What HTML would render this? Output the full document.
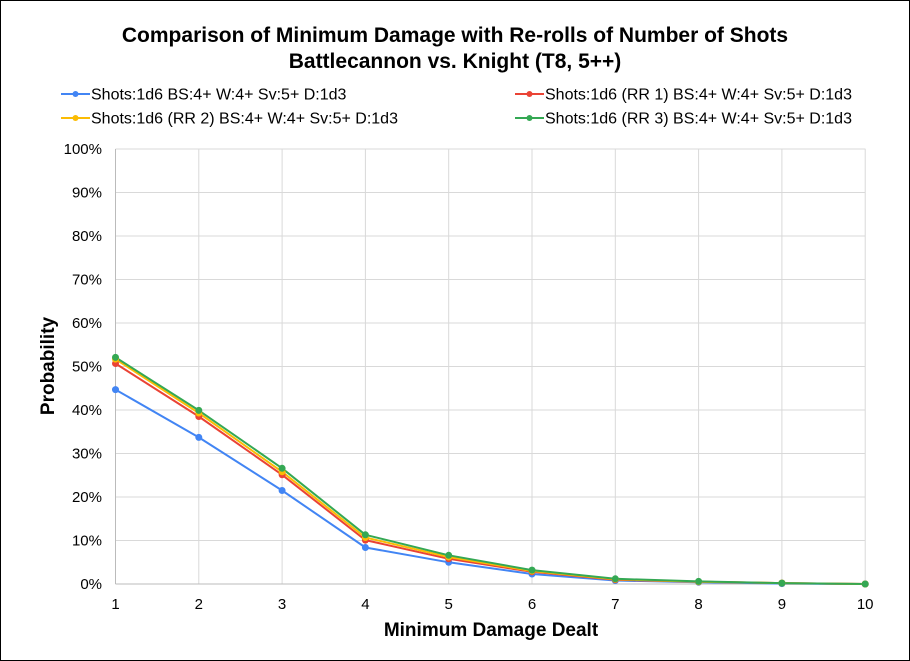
<!DOCTYPE html>
<html><head><meta charset="utf-8"><style>
html,body{margin:0;padding:0;background:#fff}
svg{display:block;font-family:"Liberation Sans",Arial,sans-serif}
</style></head><body>
<svg width="910" height="661" viewBox="0 0 910 661" xmlns="http://www.w3.org/2000/svg">
<rect x="0.5" y="0.5" width="909" height="660" fill="#fff" stroke="#000"/>
<text x="455" y="42" font-size="21" font-weight="bold" text-anchor="middle">Comparison of Minimum Damage with Re-rolls of Number of Shots</text>
<text x="455" y="68" font-size="21" font-weight="bold" text-anchor="middle">Battlecannon vs. Knight (T8, 5++)</text>
<g font-size="16" fill="#000">
<line x1="61" y1="94" x2="90" y2="94" stroke="#4285F4" stroke-width="2"/><circle cx="75.5" cy="94" r="3" fill="#4285F4"/>
<text x="91" y="99.5">Shots:1d6 BS:4+ W:4+ Sv:5+ D:1d3</text>
<line x1="61" y1="118" x2="90" y2="118" stroke="#FBBC04" stroke-width="2"/><circle cx="75.5" cy="118" r="3" fill="#FBBC04"/>
<text x="91" y="123.5">Shots:1d6 (RR 2) BS:4+ W:4+ Sv:5+ D:1d3</text>
<line x1="515" y1="94" x2="544" y2="94" stroke="#EA4335" stroke-width="2"/><circle cx="529.5" cy="94" r="3" fill="#EA4335"/>
<text x="545" y="99.5">Shots:1d6 (RR 1) BS:4+ W:4+ Sv:5+ D:1d3</text>
<line x1="515" y1="118" x2="544" y2="118" stroke="#34A853" stroke-width="2"/><circle cx="529.5" cy="118" r="3" fill="#34A853"/>
<text x="545" y="123.5">Shots:1d6 (RR 3) BS:4+ W:4+ Sv:5+ D:1d3</text>
</g>
<g stroke="#d9d9d9" stroke-width="1">
<line x1="115.5" y1="149" x2="865.5" y2="149"/><line x1="115.5" y1="192.5" x2="865.5" y2="192.5"/><line x1="115.5" y1="236" x2="865.5" y2="236"/><line x1="115.5" y1="279.5" x2="865.5" y2="279.5"/><line x1="115.5" y1="323" x2="865.5" y2="323"/><line x1="115.5" y1="366.5" x2="865.5" y2="366.5"/><line x1="115.5" y1="410" x2="865.5" y2="410"/><line x1="115.5" y1="453.5" x2="865.5" y2="453.5"/><line x1="115.5" y1="497" x2="865.5" y2="497"/><line x1="115.5" y1="540.5" x2="865.5" y2="540.5"/>
<line x1="198.8" y1="149" x2="198.8" y2="584"/><line x1="282.1" y1="149" x2="282.1" y2="584"/><line x1="365.4" y1="149" x2="365.4" y2="584"/><line x1="448.7" y1="149" x2="448.7" y2="584"/><line x1="532" y1="149" x2="532" y2="584"/><line x1="615.3" y1="149" x2="615.3" y2="584"/><line x1="698.6" y1="149" x2="698.6" y2="584"/><line x1="781.9" y1="149" x2="781.9" y2="584"/><line x1="865.2" y1="149" x2="865.2" y2="584"/>
</g>
<line x1="115.5" y1="149" x2="115.5" y2="584" stroke="#bbb"/>
<line x1="115.5" y1="584" x2="865.5" y2="584" stroke="#bbb"/>
<g font-size="15" text-anchor="end">
<text x="102" y="154">100%</text><text x="102" y="197.5">90%</text><text x="102" y="241">80%</text><text x="102" y="284.5">70%</text><text x="102" y="328">60%</text><text x="102" y="371.5">50%</text><text x="102" y="415">40%</text><text x="102" y="458.5">30%</text><text x="102" y="502">20%</text><text x="102" y="545.5">10%</text><text x="102" y="589">0%</text>
</g>
<g font-size="15" text-anchor="middle">
<text x="115.5" y="609">1</text><text x="198.8" y="609">2</text><text x="282.1" y="609">3</text><text x="365.4" y="609">4</text><text x="448.7" y="609">5</text><text x="532" y="609">6</text><text x="615.3" y="609">7</text><text x="698.6" y="609">8</text><text x="781.9" y="609">9</text><text x="865.2" y="609">10</text>
</g>
<text x="491" y="636" font-size="19" font-weight="bold" text-anchor="middle">Minimum Damage Dealt</text>
<text transform="translate(54,366) rotate(-90)" font-size="19" font-weight="bold" text-anchor="middle">Probability</text>
<g fill="none" stroke-width="2" stroke-linejoin="round">
<polyline stroke="#4285F4" points="115.5,389.6 198.8,437.4 282.1,490.5 365.4,547.5 448.7,562.3 532,574 615.3,580.5 698.6,582.3 781.9,583.6 865.2,584"/>
<polyline stroke="#EA4335" points="115.5,363.5 198.8,416.5 282.1,474.8 365.4,540.1 448.7,558.8 532,571.8 615.3,579.7 698.6,581.8 781.9,583.1 865.2,584"/>
<polyline stroke="#FBBC04" points="115.5,359.1 198.8,413 282.1,471.8 365.4,537.5 448.7,557 532,571 615.3,579.2 698.6,581.8 781.9,583.1 865.2,584"/>
<polyline stroke="#34A853" points="115.5,357.4 198.8,410.4 282.1,468.3 365.4,534.8 448.7,555.3 532,570.1 615.3,578.8 698.6,581.4 781.9,583.1 865.2,584"/>
</g>
<g fill="#4285F4"><circle cx="115.5" cy="389.6" r="3.5"/><circle cx="198.8" cy="437.4" r="3.5"/><circle cx="282.1" cy="490.5" r="3.5"/><circle cx="365.4" cy="547.5" r="3.5"/><circle cx="448.7" cy="562.3" r="3.5"/><circle cx="532" cy="574" r="3.5"/><circle cx="615.3" cy="580.5" r="3.5"/><circle cx="698.6" cy="582.3" r="3.5"/><circle cx="781.9" cy="583.6" r="3.5"/><circle cx="865.2" cy="584" r="3.5"/></g>
<g fill="#EA4335"><circle cx="115.5" cy="363.5" r="3.5"/><circle cx="198.8" cy="416.5" r="3.5"/><circle cx="282.1" cy="474.8" r="3.5"/><circle cx="365.4" cy="540.1" r="3.5"/><circle cx="448.7" cy="558.8" r="3.5"/><circle cx="532" cy="571.8" r="3.5"/><circle cx="615.3" cy="579.7" r="3.5"/><circle cx="698.6" cy="581.8" r="3.5"/><circle cx="781.9" cy="583.1" r="3.5"/><circle cx="865.2" cy="584" r="3.5"/></g>
<g fill="#FBBC04"><circle cx="115.5" cy="359.1" r="3.5"/><circle cx="198.8" cy="413" r="3.5"/><circle cx="282.1" cy="471.8" r="3.5"/><circle cx="365.4" cy="537.5" r="3.5"/><circle cx="448.7" cy="557" r="3.5"/><circle cx="532" cy="571" r="3.5"/><circle cx="615.3" cy="579.2" r="3.5"/><circle cx="698.6" cy="581.8" r="3.5"/><circle cx="781.9" cy="583.1" r="3.5"/><circle cx="865.2" cy="584" r="3.5"/></g>
<g fill="#34A853"><circle cx="115.5" cy="357.4" r="3.5"/><circle cx="198.8" cy="410.4" r="3.5"/><circle cx="282.1" cy="468.3" r="3.5"/><circle cx="365.4" cy="534.8" r="3.5"/><circle cx="448.7" cy="555.3" r="3.5"/><circle cx="532" cy="570.1" r="3.5"/><circle cx="615.3" cy="578.8" r="3.5"/><circle cx="698.6" cy="581.4" r="3.5"/><circle cx="781.9" cy="583.1" r="3.5"/><circle cx="865.2" cy="584" r="3.5"/></g>
</svg>
</body></html>
